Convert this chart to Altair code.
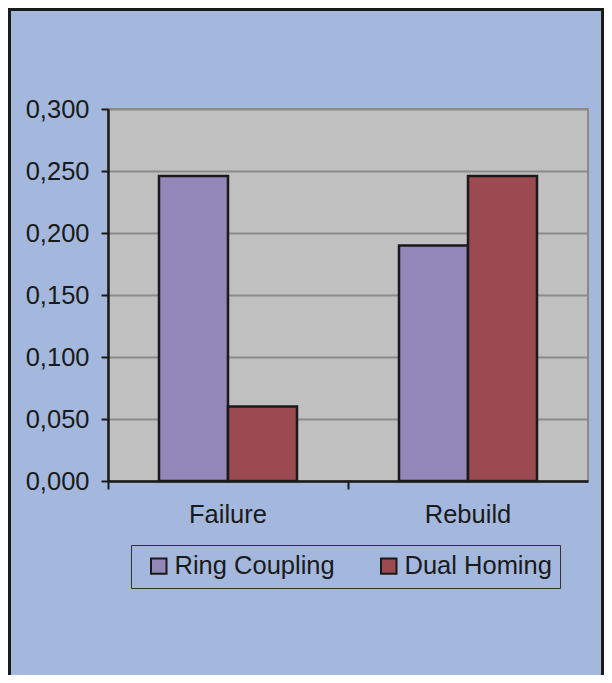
import altair as alt
import pandas as pd

categories = ["Failure", "Failure", "Rebuild", "Rebuild"]
series = ["Ring Coupling", "Dual Homing", "Ring Coupling", "Dual Homing"]
values = [0.246, 0.060, 0.190, 0.246]
series_order = ["Ring Coupling", "Dual Homing"]
series_colors = ["#9386B9", "#9A4A50"]
y_ticks = [0.0, 0.05, 0.10, 0.15, 0.20, 0.25, 0.30]

df = pd.DataFrame({"cat": categories, "series": series, "value": values})

FONT = "Liberation Sans"
FS = 25.5

bars = alt.Chart(df).mark_bar(stroke="#1a1a1a", strokeWidth=2.5).encode(
    x=alt.X("cat:N", title=None,
            scale=alt.Scale(paddingInner=0, paddingOuter=0),
            axis=alt.Axis(labelAngle=0, bandPosition=0, tickSize=8, tickColor="#1a1a1a",
                          tickWidth=2, domainColor="#1a1a1a", domainWidth=2.5,
                          labelFontSize=FS, labelFont=FONT, labelColor="#1a1a1a",
                          labelPadding=13, grid=False)),
    xOffset=alt.XOffset("series:N", sort=series_order,
                        scale=alt.Scale(paddingOuter=0.739, paddingInner=0)),
    y=alt.Y("value:Q", title=None,
            scale=alt.Scale(domain=[0, 0.3], nice=False),
            axis=alt.Axis(values=y_ticks, tickSize=7, tickColor="#1a1a1a", tickWidth=2,
                          domainColor="#1a1a1a", domainWidth=2.5,
                          labelExpr="replace(format(datum.value, '.3f'), '.', ',')",
                          labelFontSize=FS, labelFont=FONT, labelColor="#1a1a1a",
                          labelPadding=12, grid=True, gridColor="#8a8a8a", gridWidth=2)),
    color=alt.Color("series:N", sort=series_order,
                    scale=alt.Scale(domain=series_order, range=series_colors),
                    legend=alt.Legend(orient="none", legendX=23, legendY=436,
                                      direction="horizontal", title=None,
                                      labelFontSize=FS, labelFont=FONT, labelColor="#1a1a1a",
                                      labelLimit=1000,
                                      symbolType="square", symbolSize=240,
                                      symbolStrokeColor="#1a1a1a", symbolStrokeWidth=2,
                                      symbolOpacity=1, symbolOffset=7,
                                      labelOffset=3, columnPadding=34,
                                      padding=8, strokeColor="#333333",
                                      fillColor="#A4B8DE")),
)

border = alt.Chart(alt.Data(values=[{}])).mark_rect(
    fillOpacity=0, stroke="#1a1a1a", strokeWidth=3
).encode(
    x=alt.value(-98.5), x2=alt.value(494.5), y=alt.value(-99.5), y2=alt.value(620)
)

chart = alt.layer(bars, border).properties(
    width=480, height=372,
    padding={"left": 100, "top": 101, "right": 16, "bottom": 194},
    autosize=alt.AutoSizeParams(type="none"),
    background="#A4B8DE",
).configure_view(
    fill="#C0C0C0", stroke="#8a8a8a", strokeWidth=2
)

chart.save("out.html", embed_options={"renderer": "svg", "actions": False})
